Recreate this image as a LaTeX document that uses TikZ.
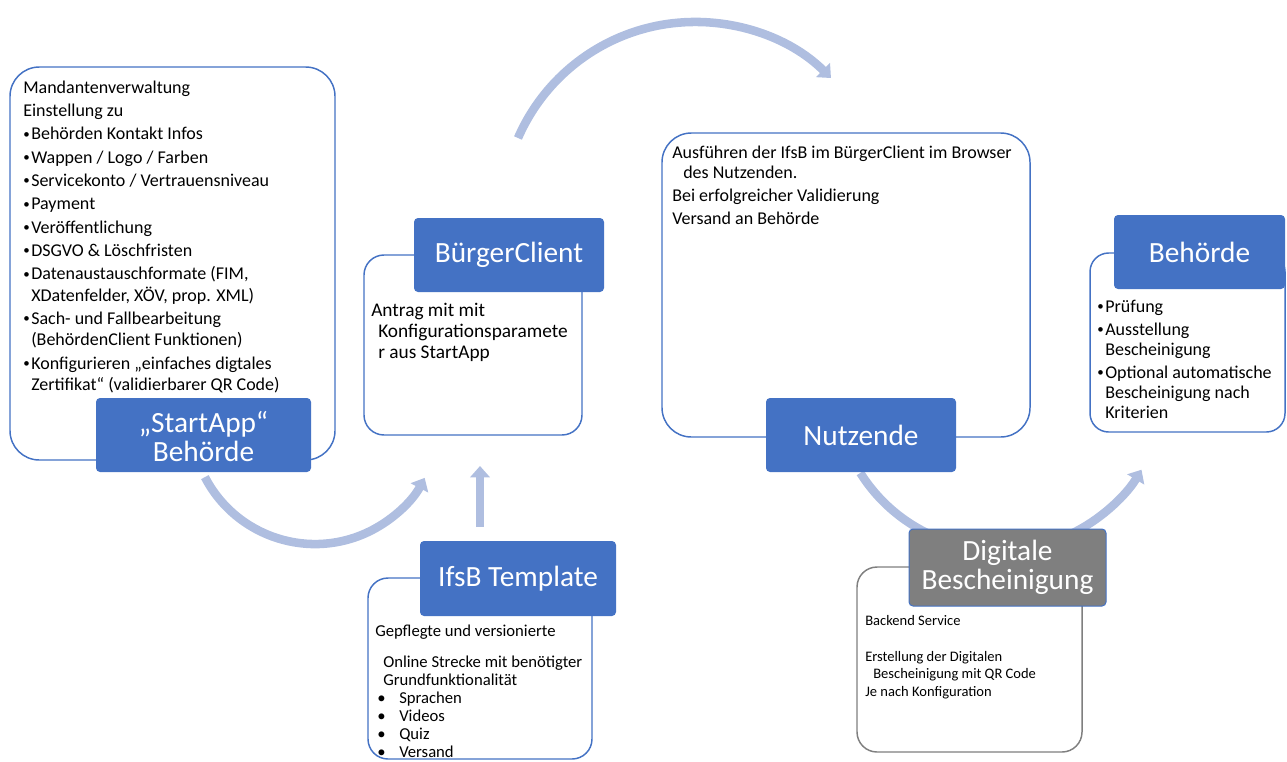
\documentclass[tikz,border=0pt]{standalone}
\usepackage{fontspec}
\setmainfont{Carlito}
\usetikzlibrary{fit,arrows.meta}
\definecolor{boxblue}{HTML}{4472C4}
\definecolor{arrowblue}{HTML}{AFBEE0}
\definecolor{labgray}{HTML}{7F7F7F}
\newcommand\bulglyph{\raisebox{0.09em}{\scalebox{0.72}{•}}}
\newcommand\bul{\makebox[6pt][l]{\bulglyph}}
\newcommand\hang{\hspace*{6pt}}
\begin{document}
\begin{tikzpicture}[x=0.75pt,y=-0.75pt,
  bodybox/.style={draw=boxblue, line width=1.1pt, fill=white, inner sep=0pt},
  labelbox/.style={fill=boxblue, rounded corners=3pt, inner sep=0pt},
  labeltext/.style={text=white, align=center, inner sep=0pt, font=\fontsize{22}{21.5}\selectfont},
  bodytext/.style={anchor=north west, inner sep=0pt, align=left},
  flow/.style={draw=arrowblue, line width=6.4pt, -{Triangle[width=14.5pt,length=8.5pt]}}
]
\useasboundingbox (0,0) rectangle (1287,761);

% arrows
\coordinate (la) at (204.9,477.1);
\draw[flow] (la) arc[start angle=152.6, end angle=27.8, radius=124];
\coordinate (ta) at (518,138);
\draw[flow] (ta) arc[start angle=203.5, end angle=314.8, radius=193];
\coordinate (ra) at (860.3,472.9);
\draw[flow] (ra) arc[start angle=147.8, end angle=30.9, radius=165];
\coordinate (ua) at (480,527);
\coordinate (ub) at (480,466);
\draw[flow] (ua) -- (ub);

% StartApp
\node[bodybox, rounded corners=22pt, fit={(10,67)(335,460)}] (startbody) {};
\node[bodytext, font=\fontsize{13.5}{16}\selectfont] (starttext) at (23,80.5) {Mandantenverwaltung\\[1.5pt]
Einstellung zu\\[1.5pt]
\bul Behörden Kontakt Infos\\[1.5pt]
\bul Wappen / Logo / Farben\\[1.5pt]
\bul Servicekonto / Vertrauensniveau\\[1.5pt]
\bul Payment\\[1.5pt]
\bul Veröffentlichung\\[1.5pt]
\bul DSGVO \& Löschfristen\\[1.5pt]
\bul Datenaustauschformate (FIM,\\
\hang XDatenfelder, XÖV, prop. XML)\\[1.5pt]
\bul Sach- und Fallbearbeitung\\
\hang (BehördenClient Funktionen)\\[1.5pt]
\bul Konfigurieren „einfaches digtales\\
\hang Zertifikat“ (validierbarer QR Code)};
\node[labelbox, fit={(96,398)(311,472)}] (startlabel) {};
\node[labeltext] (startlabeltext) at ([yshift=-1pt]startlabel.center) {„StartApp“\\Behörde};

% BuergerClient
\node[bodybox, rounded corners=15pt, fit={(364,255)(582,435)}] (bcbody) {};
\node[bodytext, font=\fontsize{14.5}{15.75}\selectfont] (bctext) at (371,303) {Antrag mit mit\\\hspace*{5.25pt}Konfigurationsparamete\\\hspace*{5.25pt}r aus StartApp};
\node[labelbox, fit={(414,218)(604,292)}] (bclabel) {};
\node[labeltext] (bclabeltext) at (bclabel.center) {BürgerClient};

% IfsB Template
\node[bodybox, rounded corners=15pt, fit={(368,578)(592,759)}] (ifbody) {};
\node[bodytext, font=\fontsize{12.5}{13.5}\selectfont] (iftext) at (375,625) {Gepflegte und versionierte\\[9.75pt]
\hspace*{6pt}Online Strecke mit benötigter\\
\hspace*{6pt}Grundfunktionalität\\
\hspace*{1.5pt}\makebox[16.5pt][l]{•}Sprachen\\
\hspace*{1.5pt}\makebox[16.5pt][l]{•}Videos\\
\hspace*{1.5pt}\makebox[16.5pt][l]{•}Quiz\\
\hspace*{1.5pt}\makebox[16.5pt][l]{•}Versand};
\node[labelbox, fit={(420,541)(616,616)}] (iflabel) {};
\node[labeltext] (iflabeltext) at (iflabel.center) {IfsB Template};

% Nutzende
\node[bodybox, rounded corners=22pt, fit={(662,133)(1030,437)}] (nzbody) {};
\node[bodytext, font=\fontsize{13.5}{15}\selectfont] (nztext) at (672,145.5) {Ausführen der IfsB im BürgerClient im Browser\\
\hspace*{8.25pt}des Nutzenden.\\[2.2pt]
Bei erfolgreicher Validierung\\[2.2pt]
Versand an Behörde};
\node[labelbox, fit={(766,398)(956,472)}] (nzlabel) {};
\node[labeltext] (nzlabeltext) at (nzlabel.center) {Nutzende};

% Behoerde
\node[bodybox, rounded corners=14pt, fit={(1090,253)(1285,432)}] (bhbody) {};
\node[bodytext, font=\fontsize{13.5}{15}\selectfont] (bhtext) at (1097,299.5) {\bul Prüfung\\[2.25pt]
\bul Ausstellung\\
\hang Bescheinigung\\[2.25pt]
\bul Optional automatische\\
\hang Bescheinigung nach\\
\hang Kriterien};
\node[labelbox, fit={(1114,215)(1285,289)}] (bhlabel) {};
\node[labeltext] (bhlabeltext) at (bhlabel.center) {Behörde};

% Digitale Bescheinigung
\node[bodybox, draw=labgray, rounded corners=15pt, fit={(857,567)(1082,752)}] (dbbody) {};
\node[bodytext, font=\fontsize{10.9}{12.9}\selectfont] (dbtext) at (865,615) {Backend Service\\[14pt]
Erstellung der Digitalen\\
\hspace*{6pt}Bescheinigung mit QR Code\\[0.6pt]
Je nach Konfiguration};
\node[labelbox, fill=labgray, draw=boxblue, line width=0.75pt, fit={(909,529)(1106,606)}] (dblabel) {};
\node[labeltext] (dblabeltext) at (dblabel.center) {Digitale\\Bescheinigung};
\end{tikzpicture}
\end{document}
